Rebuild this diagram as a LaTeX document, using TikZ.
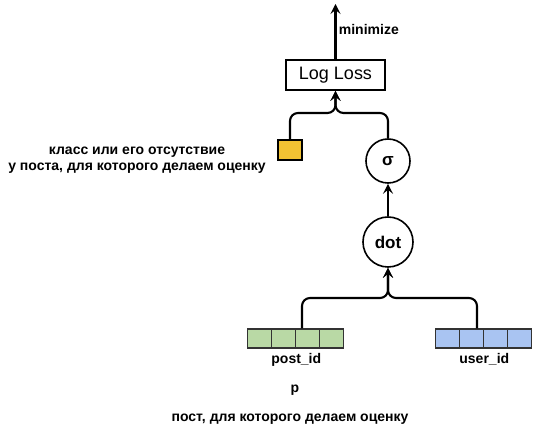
\documentclass[tikz,border=0pt]{standalone}
\usepackage{fontspec}
\setmainfont{Liberation Sans}
\usetikzlibrary{arrows.meta, positioning, shapes.geometric}

\definecolor{labelyellow}{HTML}{F2C233}
\definecolor{postgreen}{HTML}{B9D9A5}
\definecolor{userblue}{HTML}{A9C4F2}

\begin{document}
\begin{tikzpicture}[x=1pt, y=-1pt]
        % Styles
        \tikzstyle{lossbox} = [draw, line width=1.6pt, minimum width=99pt, minimum height=30pt,
                               font=\fontsize{18}{20}\selectfont]
        \tikzstyle{op} = [draw, circle, line width=1.6pt, inner sep=0pt, font=\fontsize{17}{19}\selectfont\bfseries]
        \tikzstyle{cell} = [draw=black!80, line width=1.3pt, minimum width=24pt, minimum height=19pt,
                            inner sep=0pt, anchor=west]
        \tikzstyle{lbl} = [font=\fontsize{14}{16}\selectfont\bfseries, align=center]
        \tikzstyle{arr} = [-{Stealth[length=10pt, width=10pt, inset=4pt]}, line width=2.1pt, rounded corners=8pt]

        \useasboundingbox (0,0) rectangle (550,446);

        % Loss box and output arrow
        \node[lossbox] (loss) at (335.5,75) {Log Loss};
        \coordinate (out) at (335.5,4);
        \draw[arr] (loss.north) -- node[lbl, right, xshift=-1pt, yshift=2pt] {minimize} (out);

        % Target label (yellow square) and its caption
        \node[draw, line width=1.3pt, fill=labelyellow, minimum width=24pt, minimum height=20pt] (target) at (290,150) {};
        \node[lbl] (targettext) at (137,160)
            {класс или его отсутствие\\у поста, для которого делаем оценку};

        % Operations
        \node[op, minimum size=44pt] (sigma) at (388,161) {σ};
        \node[op, minimum size=50pt] (dot) at (388,242) {dot};

        % Embedding vectors - four cells each
        \foreach \i in {0,...,3} {
            \node[cell, fill=postgreen] (post\i) at (247+24*\i,338.5) {};
            \node[cell, fill=userblue] (user\i) at (435+24*\i,338.5) {};
        }
        \node[lbl, below=1pt of post1.south east] (postlbl) {post\_id};
        \node[lbl, below=1pt of user1.south east] (userlbl) {user\_id};

        % Captions under the post vector
        \node[lbl] (ptext) at (295,390) {p};
        \node[lbl] (posttext) at (290,419) {пост, для которого делаем оценку};

        % Join points
        \coordinate (lossjoin) at (335.5,113);
        \coordinate (dotjoin) at (388,298);

        % Connectors
        \draw[arr] (target.north) |- (lossjoin) -- (loss.south);
        \draw[arr] (sigma.north) |- (lossjoin) -- (loss.south);
        \draw[arr] (dot.north) -- (sigma.south);
        \draw[arr] ([xshift=7pt]post2.north west) |- (dotjoin) -- (dot.south);
        \draw[arr] ([xshift=-6pt]user2.north west) |- (dotjoin) -- (dot.south);
\end{tikzpicture}
\end{document}
